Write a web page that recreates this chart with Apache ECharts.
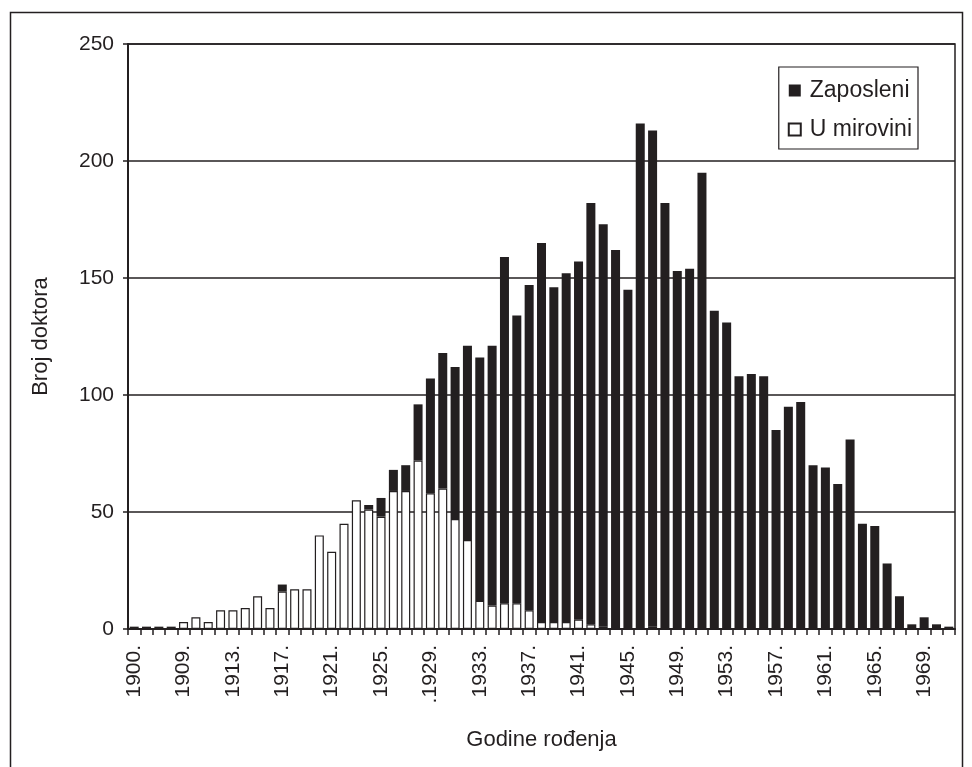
<!DOCTYPE html>
<html>
<head>
<meta charset="utf-8">
<script src="https://cdn.jsdelivr.net/npm/echarts@6/dist/echarts.min.js"></script>
<style>
html,body{margin:0;padding:0;background:#fff;}
#c{width:972px;height:767px;}
</style>
</head>
<body>
<div id="c"></div>
<script>
const categories = ["1900.","1902.","1905.","1907.","1909.","1910.","1911.","1912.","1913.","1914.","1915.","1916.","1917.","1918.","1919.","1920.","1921.","1922.","1923.","1924.","1925.","1926.","1927.","1928.",".1929.","1930.","1931.","1932.","1933.","1934.","1935.","1936.","1937.","1938.","1939.","1940.","1941.","1942.","1943.","1944.","1945.","1946.","1947.","1948.","1949.","1950.","1951.","1952.","1953.","1954.","1955.","1956.","1957.","1958.","1959.","1960.","1961.","1962.","1963.","1964.","1965.","1966.","1967.","1968.","1969.","1970.","1971."];

const retired = [1,1,1,1,3,5,3,8,8,9,14,9,16,17,17,40,33,45,55,51,48,59,59,72,58,60,47,38,12,10,11,11,8,3,3,3,4,2,1,0,0,0,1,0,0,0,0,0,0,0,0,0,0,0,0,0,0,0,0,0,0,0,0,0,0,0,0];

const employed = [0,0,0,0,0,0,0,0,0,0,0,0,3,0,0,0,0,0,0,2,8,9,11,24,49,58,65,83,104,111,148,123,139,162,143,149,153,180,172,162,145,216,212,182,153,154,195,136,131,108,109,108,85,95,97,70,69,62,81,45,44,28,14,2,5,2,1];

const yTicks = {min:0, max:250, interval:50};

const ink = '#231f20';
const font = 'Liberation Sans, Arial, sans-serif';

const chart = echarts.init(document.getElementById('c'), null, {renderer:'canvas'});
chart.setOption({
  animation:false,
  backgroundColor:'#fff',
  textStyle:{fontFamily:font,color:ink},
  graphic:[{
    type:'rect',
    shape:{x:10.5,y:12.5,width:952,height:770},
    style:{fill:'none',stroke:ink,lineWidth:1.5},
    silent:true
  }],
  grid:{left:128,right:17,top:44,bottom:138,show:true,borderColor:ink,borderWidth:1.5,backgroundColor:'transparent'},
  legend:{
    data:['Zaposleni','U mirovini'],
    orient:'vertical',
    right:54, top:67,
    padding:[12,6,8,9],
    itemGap:16,
    itemWidth:12, itemHeight:12,
    icon:'rect',
    borderColor:ink, borderWidth:1.2,
    textStyle:{fontFamily:font,fontSize:23,color:ink,padding:[0,0,0,4]}
  },
  xAxis:{
    type:'category',
    data:categories,
    name:'Godine rođenja',
    nameLocation:'middle',
    nameGap:100,
    nameTextStyle:{fontFamily:font,fontSize:22,color:ink},
    axisLine:{lineStyle:{color:ink,width:2}},
    axisTick:{show:true,interval:0,alignWithLabel:false,length:6,lineStyle:{color:ink,width:1.5}},
    axisLabel:{interval:3,rotate:90,margin:16,fontFamily:font,fontSize:21,color:ink},
    splitLine:{show:false}
  },
  yAxis:{
    type:'value',
    min:yTicks.min,max:yTicks.max,interval:yTicks.interval,
    name:'Broj doktora',
    nameLocation:'middle',
    nameGap:76,
    nameRotate:90,
    nameTextStyle:{fontFamily:font,fontSize:22,color:ink},
    axisLine:{show:true,lineStyle:{color:ink,width:2}},
    axisTick:{show:true,length:5,lineStyle:{color:ink,width:1.5}},
    axisLabel:{margin:14,fontFamily:font,fontSize:21,color:ink},
    splitLine:{show:true,lineStyle:{color:ink,width:1.5}}
  },
  series:[
    {
      name:'U mirovini',
      type:'bar',
      stack:'s',
      data:retired,
      barCategoryGap:'27%',
      itemStyle:{color:'#ffffff',borderColor:ink,borderWidth:1.2}
    },
    {
      name:'Zaposleni',
      type:'bar',
      stack:'s',
      data:employed,
      barCategoryGap:'27%',
      itemStyle:{color:ink}
    }
  ]
});
</script>
</body>
</html>
